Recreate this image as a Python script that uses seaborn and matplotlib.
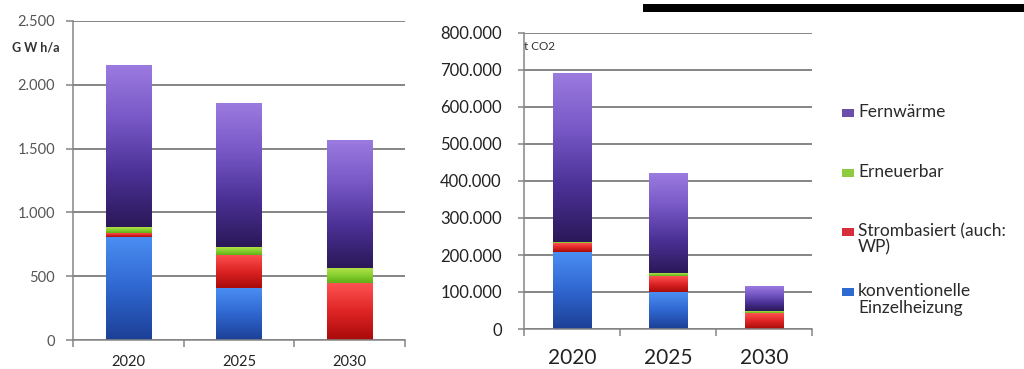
import numpy as np
import pandas as pd
import matplotlib
matplotlib.use("Agg")
import matplotlib.pyplot as plt
from matplotlib.colors import LinearSegmentedColormap
from matplotlib.patches import Rectangle
from matplotlib.ticker import FuncFormatter
import seaborn as sns

# ---- data -------------------------------------------------------------
years = ["2020", "2025", "2030"]
series = ["konventionelle\nEinzelheizung", "Strombasiert (auch:\nWP)", "Erneuerbar", "Fernwärme"]

energy_konv = [805, 405, 0]
energy_strom = [31, 260, 444]
energy_ern = [47, 60, 117]
energy_fern = [1262, 1128, 999]

co2_konv = [208000, 99000, 0]
co2_strom = [24000, 43000, 43000]
co2_ern = [2000, 8000, 5000]
co2_fern = [456000, 268000, 67000]

energy_ticks = [0, 500, 1000, 1500, 2000, 2500]
co2_ticks = [0, 100000, 200000, 300000, 400000, 500000, 600000, 700000, 800000]

# ---- styling ----------------------------------------------------------
sns.set_theme(style="white")
plt.rcParams["font.family"] = ["Lato", "DejaVu Sans"]

gradients = {
    "konventionelle\nEinzelheizung": ["#1c3f95", "#2f66cf", "#4a8ef2"],
    "Strombasiert (auch:\nWP)": ["#a80a0a", "#de2424", "#ff5252"],
    "Erneuerbar": ["#5fae16", "#86cf2e", "#b2e04a"],
    "Fernwärme": ["#2a1858", "#4b3196", "#7758c6", "#9b7bdf"],
}
legend_colors = {
    "konventionelle\nEinzelheizung": "#2f6ad0",
    "Strombasiert (auch:\nWP)": "#d8303a",
    "Erneuerbar": "#8ccc3e",
    "Fernwärme": "#6a4eaa",
}

GRID = "#858585"


def german(v, _pos=None):
    return f"{v:,.0f}".replace(",", ".")


def stacked(ax, layers, width):
    bottoms = np.zeros(len(years))
    for name, vals in zip(series, layers):
        vals = np.asarray(vals, dtype=float)
        sns.barplot(x=years, y=vals, bottom=bottoms.copy(), ax=ax, width=width,
                    color=legend_colors[name], linewidth=0, saturation=1)
        cmap = LinearSegmentedColormap.from_list(name, gradients[name])
        for patch in ax.containers[-1]:
            h = patch.get_height()
            if h <= 0:
                patch.set_visible(False)
                continue
            x0, y0, w = patch.get_x(), patch.get_y(), patch.get_width()
            grad = np.linspace(0, 1, 256).reshape(-1, 1)
            ax.imshow(grad, extent=[x0, x0 + w, y0, y0 + h], origin="lower",
                      aspect="auto", cmap=cmap, interpolation="bicubic",
                      zorder=2)
            patch.set_facecolor("none")
        bottoms += vals


def style_axes(ax, ticks, tick_size, tick_color, year_size, ypad, xpad, ticklen):
    ax.set_ylim(ticks[0], ticks[-1])
    ax.set_xlim(-0.5, 2.5)
    ax.set_yticks(ticks)
    ax.yaxis.set_major_formatter(FuncFormatter(german))
    ax.set_axisbelow(True)
    ax.grid(axis="y", color=GRID, linewidth=1.4)
    ax.grid(axis="x", visible=False)
    for s in ["top", "right"]:
        ax.spines[s].set_visible(False)
    for s in ["left", "bottom"]:
        ax.spines[s].set_color(GRID)
        ax.spines[s].set_linewidth(1.1)
    ax.tick_params(axis="y", which="major", length=ticklen, width=1.1, color=GRID,
                   labelsize=tick_size, labelcolor=tick_color, pad=ypad, left=True)
    ax.set_xticks([0, 1, 2])
    ax.set_xticklabels(years)
    ax.set_xticks([-0.5, 0.5, 1.5, 2.5], minor=True)
    ax.tick_params(axis="x", which="major", length=0, labelsize=year_size,
                   labelcolor="#222222", pad=xpad)
    ax.tick_params(axis="x", which="minor", length=5, width=1.1, color=GRID,
                   bottom=True)
    ax.set_xlabel("")
    ax.set_ylabel("")


fig = plt.figure(figsize=(10.24, 3.69), dpi=100)
fig.patch.set_facecolor("white")

# left: final energy demand
ax1 = fig.add_axes([73 / 1024, 1 - 340 / 369, 332 / 1024, 319 / 369])
stacked(ax1, [energy_konv, energy_strom, energy_ern, energy_fern], 0.41)
style_axes(ax1, energy_ticks, 10.5, "#555555", 10.5, 8, 11, 5)
fig.text(12 / 1024, 1 - 48 / 369, "G W h/a", fontsize=9, fontweight="bold",
         color="#333333", va="center", ha="left")

# right: CO2 emissions
ax2 = fig.add_axes([524 / 1024, 1 - 329 / 369, 288 / 1024, 296 / 369])
stacked(ax2, [co2_konv, co2_strom, co2_ern, co2_fern], 0.40)
style_axes(ax2, co2_ticks, 12, "#222222", 15, 12, 14, 4)
fig.text(524 / 1024, 1 - 47 / 369, "t CO2", fontsize=8.5, color="#333333",
         va="center", ha="left")

# legend (top to bottom: reverse stacking order)
legend_y = {"Fernwärme": 113, "Erneuerbar": 173,
            "Strombasiert (auch:\nWP)": 232, "konventionelle\nEinzelheizung": 292}
for name in series[::-1]:
    yc = legend_y[name]
    fig.patches.append(Rectangle((842 / 1024, 1 - (yc + 4) / 369), 12 / 1024, 8 / 369,
                                 transform=fig.transFigure, facecolor=legend_colors[name],
                                 edgecolor="none"))
    fig.text(858 / 1024, 1 - (yc - 9) / 369, name, fontsize=12.5, color="#2a2a2a",
             va="top", ha="left", linespacing=1.05)

# black band across the upper right
fig.patches.append(Rectangle((643 / 1024, 1 - 12 / 369), 381 / 1024, 8 / 369,
                             transform=fig.transFigure, facecolor="black",
                             edgecolor="none"))

fig.savefig("out.png", dpi=100, facecolor="white")
